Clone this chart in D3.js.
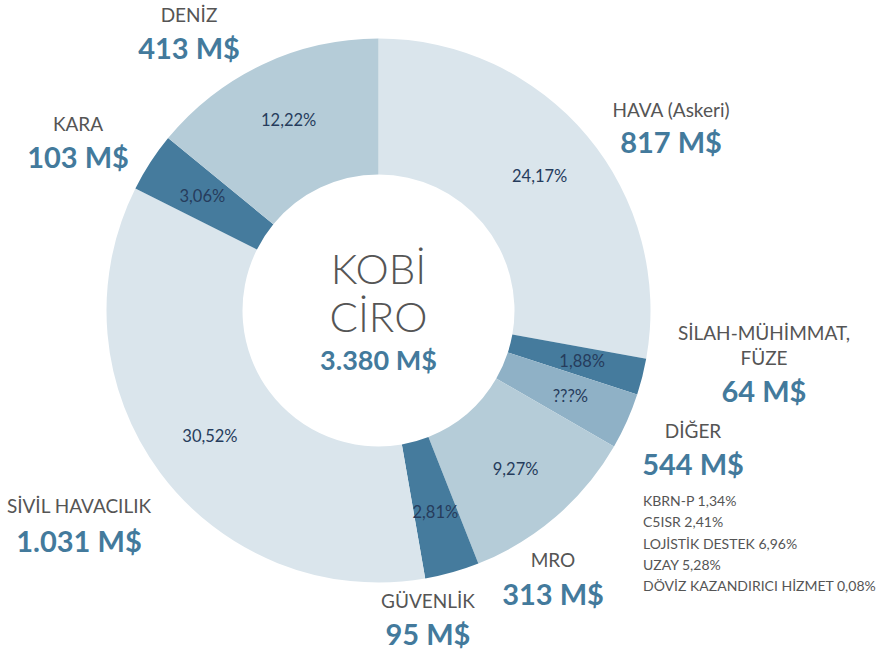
<!DOCTYPE html>
<html>
<head>
<meta charset="utf-8">
<script src="https://cdn.jsdelivr.net/npm/d3@7"></script>
<style>
  body { margin: 0; background: #fff; }
  svg { display: block; font-family: Lato, "Open Sans", sans-serif; }
</style>
</head>
<body>
<svg id="chart" width="887" height="652"></svg>
<script>
// slices, clockwise from 12 o'clock
const categories = [["HAVA (Askeri)"], ["SİLAH-MÜHİMMAT,", "FÜZE"], ["DİĞER"], ["MRO"], ["GÜVENLİK"], ["SİVİL HAVACILIK"], ["KARA"], ["DENİZ"]];
const amounts = [817, 64, 544, 313, 95, 1031, 103, 413];   // M$
const pctLabels = ["24,17%", "1,88%", "???%", "9,27%", "2,81%", "30,52%", "3,06%", "12,22%"];
// share each arc takes on the ring (DİĞER is drawn much thinner than its value)
const arcShares = [24.17, 1.88, 2.9, 9.27, 2.81, 30.52, 3.06, 12.22];
const otherItems = ["KBRN-P 1,34%", "C5ISR 2,41%", "LOJİSTİK DESTEK 6,96%", "UZAY 5,28%", "DÖVİZ KAZANDIRICI HİZMET 0,08%"];
const centerTitle = ["KOBİ", "CİRO"];

const width = 887, height = 652;
const cx = 378.5, cy = 310.5;
const outerR = 272, innerR = 136, labelR = 210;

const shades = ["#dae5ec", "#457b9d", "#8fb1c6", "#b5ccd8", "#457b9d", "#dae5ec", "#457b9d", "#b5ccd8"];
const valueColor = "#437a9c";
const labelColor = "#555555";
const pctColor = "#263c5c";

// where each category label sits [x of centre, baseline of first line, baseline of value]
const labelPos = [
  [671, 117, 153],
  [764, 340, 402],
  [693, 438, 475],
  [553, 567, 605],
  [428, 608, 645],
  [79, 513, 552],
  [78, 131, 168],
  [189, 22, 59]
];

const fmt = d3.formatLocale({decimal: ",", thousands: ".", grouping: [3], currency: ["", ""]}).format(",d");

const svg = d3.select("#chart");

const pie = d3.pie().sort(null).value(d => d);
const arcs = pie(arcShares);
const arc = d3.arc().innerRadius(innerR).outerRadius(outerR);

const g = svg.append("g").attr("transform", `translate(${cx},${cy})`);

g.selectAll("path")
  .data(arcs)
  .join("path")
  .attr("d", arc)
  .attr("fill", (d, i) => shades[i]);

const labelArc = d3.arc().innerRadius(labelR).outerRadius(labelR);
g.selectAll("text.pct")
  .data(arcs)
  .join("text")
  .attr("class", "pct")
  .attr("transform", d => `translate(${labelArc.centroid(d)})`)
  .attr("text-anchor", "middle")
  .attr("dy", "0.35em")
  .attr("fill", pctColor)
  .style("font-size", "16.5px")
  .text((d, i) => pctLabels[i]);

// centre
g.selectAll("text.title")
  .data(centerTitle)
  .join("text")
  .attr("class", "title")
  .attr("x", 0)
  .attr("y", (d, i) => -27 + i * 48.5)
  .attr("text-anchor", "middle")
  .attr("fill", labelColor)
  .style("font-size", "42px")
  .style("font-weight", 300)
  .text(d => d);

g.append("text")
  .attr("y", 59.5)
  .attr("text-anchor", "middle")
  .attr("fill", valueColor)
  .style("font-size", "27px")
  .style("font-weight", 700)
  .text(fmt(d3.sum(amounts)) + " M$");

// outside labels
categories.forEach((lines, i) => {
  const [x, y0, yv] = labelPos[i];
  lines.forEach((t, j) => {
    svg.append("text")
      .attr("x", x)
      .attr("y", y0 + j * 25)
      .attr("text-anchor", "middle")
      .attr("fill", labelColor)
      .style("font-size", "19px")
      .text(t);
  });
  svg.append("text")
    .attr("x", x)
    .attr("y", yv)
    .attr("text-anchor", "middle")
    .attr("fill", valueColor)
    .style("font-size", "29px")
    .style("font-weight", 700)
    .text(fmt(amounts[i]) + " M$");
});

svg.selectAll("text.other")
  .data(otherItems)
  .join("text")
  .attr("class", "other")
  .attr("x", 643)
  .attr("y", (d, i) => 506 + i * 21.3)
  .attr("fill", labelColor)
  .style("font-size", "14px")
  .text(d => d);
</script>
</body>
</html>
